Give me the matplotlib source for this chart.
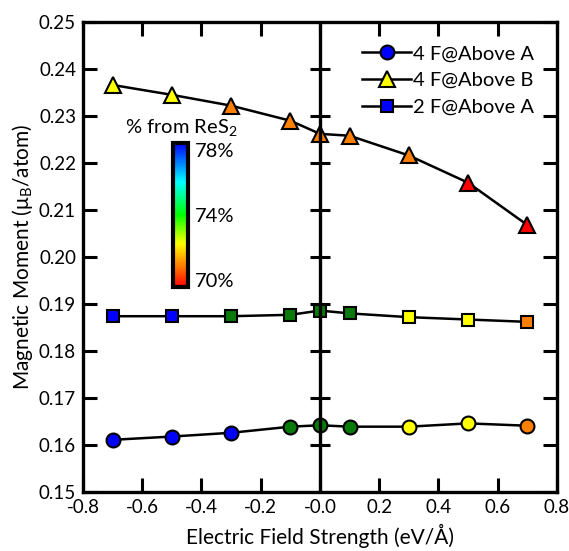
import numpy as np
import matplotlib
matplotlib.use('Agg')
import matplotlib.pyplot as plt
from matplotlib.colors import LinearSegmentedColormap, Normalize
from matplotlib.colorbar import ColorbarBase

plt.rcParams['font.family'] = ['Lato', 'DejaVu Sans']
plt.rcParams['mathtext.fontset'] = 'custom'
plt.rcParams['mathtext.rm'] = 'Lato'
plt.rcParams['mathtext.it'] = 'Lato:italic'

# electric field (eV/A) and magnetic moments (muB/atom)
field = [-0.7, -0.5, -0.3, -0.1, 0.0, 0.1, 0.3, 0.5, 0.7]
mm_4f_a = [0.1611, 0.1618, 0.1626, 0.1639, 0.1642, 0.1639, 0.1639, 0.1646, 0.1641]
mm_4f_b = [0.2366, 0.2345, 0.2322, 0.2290, 0.2262, 0.2258, 0.2216, 0.2158, 0.2068]
mm_2f_a = [0.1874, 0.1874, 0.1874, 0.1877, 0.1886, 0.1880, 0.1872, 0.1867, 0.1862]

# colour of each point = % of charge from ReS2
B, G, Y, O, R = '#0000ff', '#0a7a0a', '#ffff00', '#ff8000', '#ff0000'
col_4f_a = [B, B, B, G, G, G, Y, Y, O]
col_4f_b = [Y, Y, O, O, O, O, O, R, R]
col_2f_a = [B, B, G, G, G, G, Y, Y, O]

cbar_ticks = [70, 74, 78]

FS = 14.5
W, H = 569, 551
fig = plt.figure(figsize=(W / 100, H / 100), dpi=100)
ax = fig.add_axes([83 / W, 59 / H, 474 / W, 470 / H])

series = [
    (mm_4f_a, col_4f_a, 'o', 10, '4 F@Above A', B),
    (mm_4f_b, col_4f_b, '^', 11, '4 F@Above B', Y),
    (mm_2f_a, col_2f_a, 's', 8, '2 F@Above A', B),
]
for vals, cols, mk, ms, lab, lcol in series:
    ax.plot(field, vals, color='black', lw=1.8, zorder=2)
    for x, y, c in zip(field, vals, cols):
        ax.plot(x, y, marker=mk, ms=ms, mfc=c, mec='black', mew=1.5, ls='none', zorder=3)
    # proxy for legend
    ax.plot([], [], color='black', lw=1.8, marker=mk, ms=ms, mfc=lcol,
            mec='black', mew=1.5, label=lab)

ax.set_xlim(-0.8, 0.8)
ax.set_ylim(0.15, 0.25)
ax.set_xticks(np.arange(-0.8, 0.81, 0.2))
ax.set_yticks(np.arange(0.15, 0.251, 0.01))
ax.xaxis.set_major_formatter(matplotlib.ticker.FormatStrFormatter('%.1f'))
ax.yaxis.set_major_formatter(matplotlib.ticker.FormatStrFormatter('%.2f'))
ax.tick_params(direction='in', length=10, width=2.2, top=True, right=True,
               labelsize=13.5, pad=5)
for s in ax.spines.values():
    s.set_linewidth(2.4)

# zero-field line with crossing ticks
ax.axvline(0, color='black', lw=2.4, zorder=4)
yt = ax.get_yticks()[1:-1]
ax.plot(np.zeros(len(yt)), yt, ls='none', marker='_', ms=14, mew=2.2,
        color='black', zorder=4)

ax.set_xlabel('Electric Field Strength (eV/Å)', fontsize=15, labelpad=6)
ax.set_ylabel(r'Magnetic Moment ($\mathregular{\mu_B}$/atom)', fontsize=15, labelpad=3)

ax.legend(loc='upper right', frameon=False, fontsize=FS, handlelength=2.4,
          handletextpad=0.1, labelspacing=0.48, borderaxespad=0.75,
          bbox_to_anchor=(1.0, 1.0))

# colour scale for ReS2 share
cmap = LinearSegmentedColormap.from_list('res2', [
    (0.0, '#ff0000'), (0.15, '#ff8000'), (0.3, '#ffff00'),
    (0.5, '#00ff00'), (0.73, '#00ffff'), (1.0, '#0000ff')])
cax = fig.add_axes([173 / W, (H - 287) / H, 15 / W, 144 / H])
cb = ColorbarBase(cax, cmap=cmap, norm=Normalize(69.6, 78.4), ticks=cbar_ticks)
cb.set_ticklabels([f'{t}%' for t in cbar_ticks])
cb.outline.set_linewidth(3)
cax.tick_params(length=0, labelsize=FS, pad=5)
fig.text(181 / W, 1 - 127 / H, r'% from ReS$\mathregular{_2}$', fontsize=FS,
         ha='center', va='center')

fig.savefig('out.png', dpi=100)
